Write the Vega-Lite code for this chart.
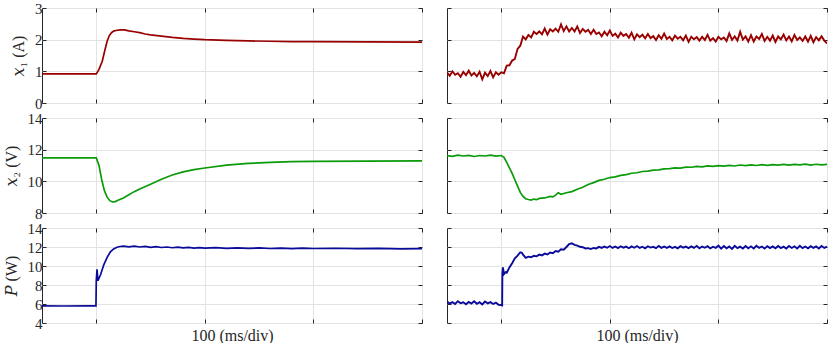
{
"$schema":"https://vega.github.io/schema/vega-lite/v6.json",
"padding":{"left":2,"top":0,"right":1,"bottom":0},
"bounds":"flush",
"spacing":{"row":15,"column":25},
"columns":2,
"datasets":{
"x1L":[{"t":-50,"v":0.92},{"t":0,"v":0.92},{"t":2.5,"v":1.06},{"t":5.5,"v":1.32},{"t":8,"v":1.68},{"t":10,"v":1.95},{"t":12,"v":2.13},{"t":14,"v":2.22},{"t":16,"v":2.27},{"t":18,"v":2.29},{"t":22,"v":2.31},{"t":26,"v":2.31},{"t":30,"v":2.28},{"t":35,"v":2.25},{"t":40,"v":2.22},{"t":45,"v":2.18},{"t":50,"v":2.15},{"t":60,"v":2.11},{"t":70,"v":2.07},{"t":80,"v":2.04},{"t":90,"v":2.02},{"t":100,"v":2.0},{"t":120,"v":1.98},{"t":140,"v":1.96},{"t":160,"v":1.95},{"t":180,"v":1.94},{"t":200,"v":1.94},{"t":250,"v":1.93},{"t":300,"v":1.92}],
"x1R":[{"t":-50,"v":0.97},{"t":-47.5,"v":0.86},{"t":-45,"v":1.0},{"t":-42.5,"v":0.89},{"t":-40,"v":0.94},{"t":-37.5,"v":0.83},{"t":-35,"v":0.98},{"t":-32.5,"v":0.88},{"t":-30,"v":1.02},{"t":-27.5,"v":0.87},{"t":-25,"v":0.95},{"t":-22.5,"v":0.84},{"t":-20,"v":0.99},{"t":-17.5,"v":0.75},{"t":-15,"v":0.96},{"t":-12.5,"v":0.85},{"t":-10,"v":1.01},{"t":-7.5,"v":0.81},{"t":-5,"v":0.97},{"t":-2.5,"v":0.89},{"t":0,"v":0.97},{"t":2.5,"v":0.94},{"t":5,"v":1.18},{"t":7.5,"v":1.19},{"t":10,"v":1.34},{"t":12.5,"v":1.39},{"t":15,"v":1.71},{"t":17.5,"v":1.81},{"t":20,"v":2.1},{"t":22.5,"v":2.01},{"t":25,"v":2.15},{"t":27.5,"v":2.07},{"t":30,"v":2.25},{"t":32.5,"v":2.18},{"t":35,"v":2.26},{"t":37.5,"v":2.17},{"t":40,"v":2.35},{"t":42.5,"v":2.16},{"t":45,"v":2.33},{"t":47.5,"v":2.26},{"t":50,"v":2.35},{"t":52.5,"v":2.25},{"t":55,"v":2.48},{"t":57.5,"v":2.27},{"t":60,"v":2.42},{"t":62.5,"v":2.26},{"t":65,"v":2.37},{"t":67.5,"v":2.26},{"t":70,"v":2.42},{"t":72.5,"v":2.21},{"t":75,"v":2.34},{"t":77.5,"v":2.25},{"t":80,"v":2.31},{"t":82.5,"v":2.18},{"t":85,"v":2.31},{"t":87.5,"v":2.18},{"t":90,"v":2.23},{"t":92.5,"v":2.11},{"t":95,"v":2.25},{"t":97.5,"v":2.14},{"t":100,"v":2.29},{"t":102.5,"v":2.12},{"t":105,"v":2.19},{"t":107.5,"v":2.07},{"t":110,"v":2.22},{"t":112.5,"v":2.12},{"t":115,"v":2.18},{"t":117.5,"v":2.06},{"t":120,"v":2.22},{"t":122.5,"v":2.01},{"t":125,"v":2.17},{"t":127.5,"v":2.08},{"t":130,"v":2.16},{"t":132.5,"v":2.04},{"t":135,"v":2.18},{"t":137.5,"v":2.05},{"t":140,"v":2.11},{"t":142.5,"v":1.99},{"t":145,"v":2.14},{"t":147.5,"v":2.03},{"t":150,"v":2.19},{"t":152.5,"v":2.02},{"t":155,"v":2.09},{"t":157.5,"v":1.98},{"t":160,"v":2.13},{"t":162.5,"v":2.03},{"t":165,"v":2.09},{"t":167.5,"v":1.98},{"t":170,"v":2.13},{"t":172.5,"v":1.93},{"t":175,"v":2.09},{"t":177.5,"v":2.01},{"t":180,"v":2.08},{"t":182.5,"v":1.97},{"t":185,"v":2.09},{"t":187.5,"v":1.99},{"t":190,"v":2.15},{"t":192.5,"v":1.97},{"t":195,"v":2.05},{"t":197.5,"v":1.94},{"t":200,"v":2.09},{"t":202.5,"v":2.01},{"t":205,"v":2.07},{"t":207.5,"v":1.96},{"t":210,"v":2.2},{"t":212.5,"v":1.99},{"t":215,"v":2.1},{"t":217.5,"v":1.97},{"t":220,"v":2.25},{"t":222.5,"v":2.0},{"t":225,"v":2.1},{"t":227.5,"v":1.94},{"t":230,"v":2.14},{"t":232.5,"v":1.94},{"t":235,"v":2.1},{"t":237.5,"v":2.02},{"t":240,"v":2.18},{"t":242.5,"v":1.96},{"t":245,"v":2.09},{"t":247.5,"v":1.97},{"t":250,"v":2.13},{"t":252.5,"v":1.93},{"t":255,"v":2.1},{"t":257.5,"v":2.01},{"t":260,"v":2.16},{"t":262.5,"v":1.98},{"t":265,"v":2.1},{"t":267.5,"v":1.95},{"t":270,"v":2.15},{"t":272.5,"v":1.99},{"t":275,"v":2.07},{"t":277.5,"v":1.96},{"t":280,"v":2.1},{"t":282.5,"v":1.94},{"t":285,"v":2.12},{"t":287.5,"v":1.92},{"t":290,"v":2.08},{"t":292.5,"v":1.98},{"t":295,"v":2.11},{"t":297.5,"v":1.97},{"t":300,"v":1.88}],
"x2L":[{"t":-50,"v":11.48},{"t":0,"v":11.48},{"t":2.5,"v":11.0},{"t":5,"v":10.1},{"t":7.5,"v":9.4},{"t":10,"v":9.0},{"t":12.5,"v":8.78},{"t":15,"v":8.7},{"t":17.5,"v":8.72},{"t":20,"v":8.8},{"t":25,"v":8.95},{"t":30,"v":9.15},{"t":35,"v":9.35},{"t":40,"v":9.52},{"t":50,"v":9.82},{"t":60,"v":10.13},{"t":70,"v":10.4},{"t":80,"v":10.6},{"t":90,"v":10.74},{"t":100,"v":10.84},{"t":120,"v":11.02},{"t":140,"v":11.13},{"t":160,"v":11.2},{"t":180,"v":11.24},{"t":200,"v":11.26},{"t":250,"v":11.28},{"t":300,"v":11.29}],
"x2R":[{"t":-50,"v":11.63},{"t":-45,"v":11.58},{"t":-40,"v":11.65},{"t":-35,"v":11.6},{"t":-30,"v":11.64},{"t":-25,"v":11.57},{"t":-20,"v":11.63},{"t":-15,"v":11.6},{"t":-10,"v":11.66},{"t":-5,"v":11.59},{"t":0,"v":11.63},{"t":2.5,"v":11.52},{"t":5,"v":11.2},{"t":7.5,"v":10.85},{"t":10,"v":10.5},{"t":12.5,"v":10.1},{"t":15,"v":9.7},{"t":17.5,"v":9.3},{"t":20,"v":9.05},{"t":22.5,"v":8.9},{"t":25,"v":8.85},{"t":27.5,"v":8.82},{"t":30,"v":8.88},{"t":32.5,"v":8.84},{"t":35,"v":8.92},{"t":40,"v":8.95},{"t":45,"v":9.05},{"t":47.5,"v":9.02},{"t":50,"v":9.13},{"t":52.5,"v":9.28},{"t":55,"v":9.18},{"t":60,"v":9.28},{"t":65,"v":9.35},{"t":70,"v":9.5},{"t":75,"v":9.63},{"t":80,"v":9.8},{"t":85,"v":9.92},{"t":90,"v":10.06},{"t":95,"v":10.13},{"t":100,"v":10.24},{"t":105,"v":10.28},{"t":110,"v":10.38},{"t":115,"v":10.42},{"t":120,"v":10.51},{"t":125,"v":10.54},{"t":130,"v":10.62},{"t":135,"v":10.64},{"t":140,"v":10.71},{"t":145,"v":10.72},{"t":150,"v":10.79},{"t":155,"v":10.8},{"t":160,"v":10.85},{"t":165,"v":10.84},{"t":170,"v":10.9},{"t":175,"v":10.89},{"t":180,"v":10.94},{"t":185,"v":10.91},{"t":190,"v":10.97},{"t":195,"v":10.94},{"t":200,"v":10.99},{"t":205,"v":10.96},{"t":210,"v":11.01},{"t":215,"v":10.97},{"t":220,"v":11.03},{"t":225,"v":10.99},{"t":230,"v":11.04},{"t":235,"v":11.0},{"t":240,"v":11.05},{"t":245,"v":11.01},{"t":250,"v":11.06},{"t":255,"v":11.02},{"t":260,"v":11.07},{"t":265,"v":11.03},{"t":270,"v":11.07},{"t":275,"v":11.04},{"t":280,"v":11.09},{"t":285,"v":11.03},{"t":290,"v":11.08},{"t":295,"v":11.04},{"t":300,"v":11.07}],
"PL":[{"t":-50,"v":5.8},{"t":-30,"v":5.79},{"t":-10,"v":5.81},{"t":-0.3,"v":5.8},{"t":0,"v":8.5},{"t":0.7,"v":9.65},{"t":1.5,"v":8.45},{"t":4,"v":9.1},{"t":7,"v":10.15},{"t":10,"v":10.9},{"t":13,"v":11.5},{"t":16,"v":11.8},{"t":19,"v":11.97},{"t":22,"v":12.05},{"t":25,"v":12.1},{"t":30,"v":12.02},{"t":35,"v":12.09},{"t":40,"v":12.0},{"t":45,"v":12.06},{"t":50,"v":11.97},{"t":55,"v":12.03},{"t":60,"v":11.95},{"t":65,"v":12.0},{"t":70,"v":11.92},{"t":75,"v":11.98},{"t":80,"v":11.9},{"t":85,"v":11.96},{"t":90,"v":11.89},{"t":95,"v":11.94},{"t":100,"v":11.88},{"t":110,"v":11.93},{"t":120,"v":11.86},{"t":130,"v":11.91},{"t":140,"v":11.85},{"t":150,"v":11.9},{"t":160,"v":11.84},{"t":170,"v":11.89},{"t":180,"v":11.83},{"t":190,"v":11.88},{"t":200,"v":11.84},{"t":220,"v":11.87},{"t":240,"v":11.82},{"t":260,"v":11.86},{"t":280,"v":11.81},{"t":300,"v":11.83}],
"PR":[{"t":-50,"v":6.25},{"t":-47.5,"v":6.05},{"t":-45,"v":6.2},{"t":-42.5,"v":6.0},{"t":-40,"v":6.3},{"t":-37.5,"v":6.08},{"t":-35,"v":6.18},{"t":-32.5,"v":5.98},{"t":-30,"v":6.22},{"t":-27.5,"v":6.05},{"t":-25,"v":6.28},{"t":-22.5,"v":6.02},{"t":-20,"v":6.19},{"t":-17.5,"v":5.95},{"t":-15,"v":6.26},{"t":-12.5,"v":6.07},{"t":-10,"v":6.2},{"t":-7.5,"v":6.0},{"t":-5,"v":6.15},{"t":-2.5,"v":5.92},{"t":0,"v":5.88},{"t":0.8,"v":5.85},{"t":1,"v":9.2},{"t":1.5,"v":9.85},{"t":2.5,"v":9.15},{"t":4,"v":9.35},{"t":5,"v":9.3},{"t":7.5,"v":9.85},{"t":10,"v":10.3},{"t":12.5,"v":10.8},{"t":15,"v":11.1},{"t":17.5,"v":11.45},{"t":19,"v":11.4},{"t":20,"v":11.2},{"t":22.5,"v":10.85},{"t":25,"v":10.98},{"t":27.5,"v":10.92},{"t":30,"v":11.08},{"t":32.5,"v":11.02},{"t":35,"v":11.2},{"t":37.5,"v":11.12},{"t":40,"v":11.3},{"t":42.5,"v":11.22},{"t":45,"v":11.42},{"t":47.5,"v":11.35},{"t":50,"v":11.58},{"t":52.5,"v":11.5},{"t":55,"v":11.76},{"t":57.5,"v":11.72},{"t":60,"v":12.0},{"t":62.5,"v":12.3},{"t":65,"v":12.38},{"t":67.5,"v":12.22},{"t":70,"v":12.15},{"t":72.5,"v":12.02},{"t":75,"v":11.98},{"t":77.5,"v":11.85},{"t":80,"v":11.88},{"t":82.5,"v":11.78},{"t":85,"v":11.9},{"t":87.5,"v":11.85},{"t":90,"v":12.02},{"t":92.5,"v":11.9},{"t":95,"v":12.05},{"t":97.5,"v":11.92},{"t":100,"v":12.1},{"t":102.5,"v":11.9},{"t":105,"v":12.05},{"t":107.5,"v":11.88},{"t":110,"v":12.08},{"t":112.5,"v":11.93},{"t":115,"v":12.04},{"t":117.5,"v":11.87},{"t":120,"v":12.06},{"t":122.5,"v":11.92},{"t":125,"v":12.1},{"t":127.5,"v":11.9},{"t":130,"v":12.03},{"t":132.5,"v":11.86},{"t":135,"v":12.08},{"t":137.5,"v":11.94},{"t":140,"v":12.02},{"t":142.5,"v":11.88},{"t":145,"v":12.12},{"t":147.5,"v":11.91},{"t":150,"v":12.05},{"t":152.5,"v":11.9},{"t":155,"v":12.07},{"t":157.5,"v":11.89},{"t":160,"v":12.01},{"t":162.5,"v":11.86},{"t":165,"v":12.09},{"t":167.5,"v":11.93},{"t":170,"v":12.04},{"t":172.5,"v":11.88},{"t":175,"v":12.06},{"t":177.5,"v":11.9},{"t":180,"v":12.12},{"t":182.5,"v":11.87},{"t":185,"v":12.05},{"t":187.5,"v":11.92},{"t":190,"v":12.08},{"t":192.5,"v":11.85},{"t":195,"v":12.03},{"t":197.5,"v":11.9},{"t":200,"v":12.14},{"t":202.5,"v":11.82},{"t":205,"v":12.1},{"t":207.5,"v":11.86},{"t":210,"v":12.06},{"t":212.5,"v":11.8},{"t":215,"v":12.12},{"t":217.5,"v":11.88},{"t":220,"v":12.04},{"t":222.5,"v":11.84},{"t":225,"v":12.1},{"t":227.5,"v":11.87},{"t":230,"v":12.07},{"t":232.5,"v":11.85},{"t":235,"v":12.13},{"t":237.5,"v":11.9},{"t":240,"v":12.05},{"t":242.5,"v":11.83},{"t":245,"v":12.09},{"t":247.5,"v":11.88},{"t":250,"v":12.06},{"t":252.5,"v":11.86},{"t":255,"v":12.11},{"t":257.5,"v":11.89},{"t":260,"v":12.04},{"t":262.5,"v":11.84},{"t":265,"v":12.1},{"t":267.5,"v":11.9},{"t":270,"v":12.07},{"t":272.5,"v":11.85},{"t":275,"v":12.12},{"t":277.5,"v":11.88},{"t":280,"v":12.05},{"t":282.5,"v":11.86},{"t":285,"v":12.09},{"t":287.5,"v":11.91},{"t":290,"v":12.06},{"t":292.5,"v":11.84},{"t":295,"v":12.1},{"t":297.5,"v":11.9},{"t":300,"v":12.03}]
},
"concat":[
{"width":380,"height":95,"data":{"name":"x1L"},"resolve":{"axis":{"x":"independent","y":"independent"}},"layer":[
 {"mark":{"type":"line","color":"#990000","strokeWidth":1.7,"clip":true},
 "encoding":{"x":{"field":"t","type":"quantitative","scale":{"domain":[-50,300],"nice":false},"axis":{"values":[0,100,200,300],"labels":false,"title":null}},
 "y":{"field":"v","type":"quantitative","scale":{"domain":[0,3],"nice":false},"axis":{"values":[0,1,2,3],"title":"𝑥₁ (A)","titlePadding":8}}}},
 {"mark":{"type":"line","opacity":0},
 "encoding":{"x":{"field":"t","type":"quantitative","axis":{"orient":"top","values":[0,100,200,300],"labels":false,"grid":false,"title":null}},
 "y":{"field":"v","type":"quantitative","axis":{"orient":"right","values":[0,1,2,3],"labels":false,"grid":false,"title":null}}}}]},
{"width":380,"height":95,"data":{"name":"x1R"},"resolve":{"axis":{"x":"independent","y":"independent"}},"layer":[
 {"mark":{"type":"line","color":"#990000","strokeWidth":1.9,"clip":true},
 "encoding":{"x":{"field":"t","type":"quantitative","scale":{"domain":[-50,300],"nice":false},"axis":{"values":[0,100,200,300],"labels":false,"title":null}},
 "y":{"field":"v","type":"quantitative","scale":{"domain":[0,3],"nice":false},"axis":{"values":[0,1,2,3],"labels":false,"title":null}}}},
 {"mark":{"type":"line","opacity":0},
 "encoding":{"x":{"field":"t","type":"quantitative","axis":{"orient":"top","values":[0,100,200,300],"labels":false,"grid":false,"title":null}},
 "y":{"field":"v","type":"quantitative","axis":{"orient":"right","values":[0,1,2,3],"labels":false,"grid":false,"title":null}}}}]},
{"width":380,"height":95,"data":{"name":"x2L"},"resolve":{"axis":{"x":"independent","y":"independent"}},"layer":[
 {"mark":{"type":"line","color":"#0a9a0a","strokeWidth":1.7,"clip":true},
 "encoding":{"x":{"field":"t","type":"quantitative","scale":{"domain":[-50,300],"nice":false},"axis":{"values":[0,100,200,300],"labels":false,"title":null}},
 "y":{"field":"v","type":"quantitative","scale":{"domain":[8,14],"nice":false},"axis":{"values":[8,10,12,14],"title":"𝑥₂ (V)","titlePadding":8}}}},
 {"mark":{"type":"line","opacity":0},
 "encoding":{"x":{"field":"t","type":"quantitative","axis":{"orient":"top","values":[0,100,200,300],"labels":false,"grid":false,"title":null}},
 "y":{"field":"v","type":"quantitative","axis":{"orient":"right","values":[8,10,12,14],"labels":false,"grid":false,"title":null}}}}]},
{"width":380,"height":95,"data":{"name":"x2R"},"resolve":{"axis":{"x":"independent","y":"independent"}},"layer":[
 {"mark":{"type":"line","color":"#0a9a0a","strokeWidth":1.7,"clip":true},
 "encoding":{"x":{"field":"t","type":"quantitative","scale":{"domain":[-50,300],"nice":false},"axis":{"values":[0,100,200,300],"labels":false,"title":null}},
 "y":{"field":"v","type":"quantitative","scale":{"domain":[8,14],"nice":false},"axis":{"values":[8,10,12,14],"labels":false,"title":null}}}},
 {"mark":{"type":"line","opacity":0},
 "encoding":{"x":{"field":"t","type":"quantitative","axis":{"orient":"top","values":[0,100,200,300],"labels":false,"grid":false,"title":null}},
 "y":{"field":"v","type":"quantitative","axis":{"orient":"right","values":[8,10,12,14],"labels":false,"grid":false,"title":null}}}}]},
{"width":380,"height":95,"data":{"name":"PL"},"resolve":{"axis":{"x":"independent","y":"independent"}},"layer":[
 {"mark":{"type":"line","color":"#0a0a9b","strokeWidth":1.7,"clip":true},
 "encoding":{"x":{"field":"t","type":"quantitative","scale":{"domain":[-50,300],"nice":false},"axis":{"values":[0,100,200,300],"labels":false,"title":"100 (ms/div)"}},
 "y":{"field":"v","type":"quantitative","scale":{"domain":[4,14],"nice":false},"axis":{"values":[4,6,8,10,12,14],"title":"𝑃 (W)","titlePadding":8}}}},
 {"mark":{"type":"line","opacity":0},
 "encoding":{"x":{"field":"t","type":"quantitative","axis":{"orient":"top","values":[0,100,200,300],"labels":false,"grid":false,"title":null}},
 "y":{"field":"v","type":"quantitative","axis":{"orient":"right","values":[4,6,8,10,12,14],"labels":false,"grid":false,"title":null}}}}]},
{"width":380,"height":95,"data":{"name":"PR"},"resolve":{"axis":{"x":"independent","y":"independent"}},"layer":[
 {"mark":{"type":"line","color":"#0a0a9b","strokeWidth":1.9,"clip":true},
 "encoding":{"x":{"field":"t","type":"quantitative","scale":{"domain":[-50,300],"nice":false},"axis":{"values":[0,100,200,300],"labels":false,"title":"100 (ms/div)"}},
 "y":{"field":"v","type":"quantitative","scale":{"domain":[4,14],"nice":false},"axis":{"values":[4,6,8,10,12,14],"labels":false,"title":null}}}},
 {"mark":{"type":"line","opacity":0},
 "encoding":{"x":{"field":"t","type":"quantitative","axis":{"orient":"top","values":[0,100,200,300],"labels":false,"grid":false,"title":null}},
 "y":{"field":"v","type":"quantitative","axis":{"orient":"right","values":[4,6,8,10,12,14],"labels":false,"grid":false,"title":null}}}}]}
],
"config":{
 "font":"Liberation Serif, DejaVu Serif, serif",
 "view":{"stroke":"#262626","strokeWidth":1},
 "axis":{"domain":false,"tickColor":"#262626","tickSize":-4,"tickWidth":1,"gridColor":"#e3e3e3","gridWidth":1,"labelFont":"Liberation Serif, DejaVu Serif, serif","labelFontSize":15,"labelColor":"#262626","labelPadding":4,"titleFont":"Liberation Serif, DejaVu Serif, serif","titleFontSize":16,"titleFontWeight":"normal","titleColor":"#262626","titlePadding":4}
}
}
